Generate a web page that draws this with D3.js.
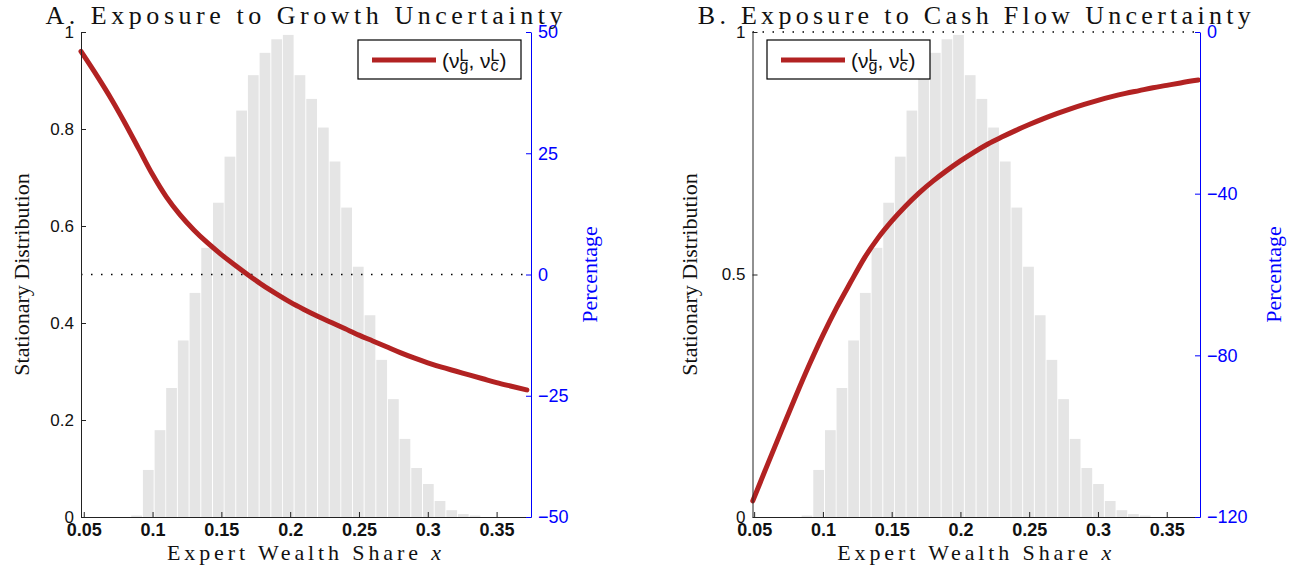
<!DOCTYPE html>
<html>
<head>
<meta charset="utf-8">
<script src="https://cdn.jsdelivr.net/npm/d3@7"></script>
<style>
  body { margin: 0; background: #fff; }
  svg { display: block; }
</style>
</head>
<body>
<div class="container"></div>
<script>
// Stationary distribution of x (histogram, left axis)
const binCenters = [0.0884, 0.0969, 0.1054, 0.1138, 0.1223, 0.1308, 0.1393, 0.1478, 0.1562, 0.1647,
                    0.1732, 0.1817, 0.1902, 0.1986, 0.2071, 0.2156, 0.2241, 0.2326, 0.2410, 0.2495,
                    0.2580, 0.2665, 0.2750, 0.2834, 0.2919, 0.3004, 0.3089, 0.3174, 0.3258, 0.3343]
const binHeights = [0.003, 0.097, 0.179, 0.266, 0.364, 0.462, 0.555, 0.648, 0.743, 0.838,
                    0.911, 0.957, 0.985, 0.994, 0.911, 0.862, 0.803, 0.733, 0.638, 0.516,
                    0.416, 0.324, 0.243, 0.161, 0.101, 0.068, 0.033, 0.014, 0.006, 0.003]
const binWidth = 0.0078

// Panel A: exposure to growth uncertainty (percentage, right axis)
const growthX = [0.048, 0.06, 0.07, 0.08, 0.09, 0.1, 0.11, 0.12, 0.13, 0.14, 0.15, 0.16, 0.17,
                 0.18, 0.19, 0.2, 0.21, 0.22, 0.23, 0.24, 0.25, 0.26, 0.27, 0.28, 0.29, 0.3,
                 0.31, 0.32, 0.33, 0.34, 0.35, 0.36, 0.372]
const growthPct = [46.0, 40.8, 36.2, 31.2, 25.9, 20.6, 16.0, 12.3, 9.2, 6.5, 4.1, 1.9, -0.2,
                   -2.2, -4.0, -5.7, -7.2, -8.6, -9.9, -11.2, -12.5, -13.7, -14.9, -16.1, -17.2, -18.2,
                   -19.1, -19.9, -20.7, -21.5, -22.3, -23.0, -23.8]

// Panel B: exposure to cash flow uncertainty (percentage, right axis)
const cashX = [0.049, 0.06, 0.07, 0.08, 0.09, 0.1, 0.11, 0.12, 0.13, 0.14, 0.15, 0.16, 0.17,
               0.18, 0.19, 0.2, 0.21, 0.22, 0.23, 0.24, 0.25, 0.26, 0.27, 0.28, 0.29, 0.3,
               0.31, 0.32, 0.33, 0.34, 0.35, 0.36, 0.373]
const cashPct = [-116.0, -106.8, -98.5, -90.3, -82.4, -75.0, -68.2, -62.0, -56.0, -51.0, -46.8, -43.1, -39.8,
                 -36.9, -34.3, -31.9, -29.7, -27.7, -26.0, -24.4, -22.9, -21.5, -20.2, -19.0, -17.9, -16.9,
                 -16.0, -15.2, -14.5, -13.8, -13.2, -12.6, -11.9]

// Tick values
const xTicks = [0.05, 0.1, 0.15, 0.2, 0.25, 0.3, 0.35]
const distTicksA = [0, 0.2, 0.4, 0.6, 0.8, 1]
const pctTicksA = [-50, -25, 0, 25, 50]
const distTicksB = [0, 0.5, 1]
const pctTicksB = [-120, -80, -40, 0]

const red = "#b22222"
const blue = "#0000ff"
const sans = "'Liberation Sans', Arial, Helvetica, sans-serif"
const serif = "'Liberation Serif', 'Times New Roman', serif"

const svg = d3.select(".container")
    .append("svg")
    .attr("width", 1301)
    .attr("height", 571)

const plotTop = 32, plotBottom = 517

const panels = [
    {left: 81, right: 531, xDomain: [0.048, 0.375],
     title: "A. Exposure to Growth Uncertainty", titleLen: 517,
     distTicks: distTicksA, pctDomain: [-50, 50], pctTicks: pctTicksA,
     curveX: growthX, curveY: growthPct, legendX: 358,
     distLabelX: 29, pctLabelX: 597},
    {left: 752.5, right: 1200, xDomain: [0.0488, 0.3742],
     title: "B. Exposure to Cash Flow Uncertainty", titleLen: 553,
     distTicks: distTicksB, pctDomain: [-120, 0], pctTicks: pctTicksB,
     curveX: cashX, curveY: cashPct, legendX: 767,
     distLabelX: 697, pctLabelX: 1281}
]

panels.forEach(p => drawPanel(p))

function drawPanel(p) {
    const g = svg.append("g")

    const xScale = d3.scaleLinear().domain(p.xDomain).range([p.left, p.right])
    const yScale = d3.scaleLinear().domain([0, 1]).range([plotBottom, plotTop])
    const pScale = d3.scaleLinear().domain(p.pctDomain).range([plotBottom, plotTop])
    const mid = (p.left + p.right) / 2

    // Histogram
    g.selectAll(".bar")
        .data(binCenters)
        .enter()
        .append("rect")
        .attr("x", d => xScale(d - binWidth / 2))
        .attr("width", d => xScale(d + binWidth / 2) - xScale(d - binWidth / 2))
        .attr("y", (d, i) => yScale(binHeights[i]))
        .attr("height", (d, i) => yScale(0) - yScale(binHeights[i]))
        .attr("fill", "#e5e5e5")

    // Zero-percent reference line
    g.append("line")
        .attr("x1", p.left)
        .attr("x2", p.right)
        .attr("y1", pScale(0))
        .attr("y2", pScale(0))
        .attr("stroke", "black")
        .attr("stroke-width", 1.4)
        .attr("stroke-dasharray", "1.5,8.5")

    // Exposure curve
    const line = d3.line()
        .x((d, i) => xScale(p.curveX[i]))
        .y(d => pScale(d))
        .curve(d3.curveMonotoneX)

    g.append("path")
        .datum(p.curveY)
        .attr("d", line)
        .attr("fill", "none")
        .attr("stroke", red)
        .attr("stroke-width", 5)
        .attr("stroke-linecap", "round")

    // Axes (ticks point inward)
    const xAxis = d3.axisBottom(xScale)
        .tickValues(xTicks)
        .tickFormat(d3.format("~g"))
        .tickSizeInner(-5)
        .tickSizeOuter(0)
        .tickPadding(6)

    const yAxis = d3.axisLeft(yScale)
        .tickValues(p.distTicks)
        .tickFormat(d3.format("~g"))
        .tickSizeInner(-5)
        .tickSizeOuter(0)
        .tickPadding(7)

    const pAxis = d3.axisRight(pScale)
        .tickValues(p.pctTicks)
        .tickFormat(d3.format("~g"))
        .tickSizeInner(-5)
        .tickSizeOuter(0)
        .tickPadding(7)

    g.append("g")
        .attr("transform", `translate(0, ${plotBottom})`)
        .call(xAxis)
        .call(a => a.selectAll("text")
            .attr("font-size", 18)
            .attr("font-weight", "bold")
            .attr("font-family", sans)
            .attr("fill", "#111"))
        .call(a => a.selectAll("line, path").attr("stroke", "#222"))

    g.append("g")
        .attr("transform", `translate(${p.left}, 0)`)
        .call(yAxis)
        .call(a => a.selectAll("text")
            .attr("font-size", 17)
            .attr("font-family", sans)
            .attr("fill", "#111"))
        .call(a => a.selectAll("line, path").attr("stroke", "#222"))

    g.append("g")
        .attr("transform", `translate(${p.right}, 0)`)
        .call(pAxis)
        .call(a => a.selectAll("text")
            .attr("font-size", 18)
            .attr("font-family", sans)
            .attr("fill", blue))
        .call(a => a.selectAll("line, path").attr("stroke", blue))

    // Title and axis labels
    g.append("text")
        .text(p.title)
        .attr("x", mid - 2)
        .attr("y", 24)
        .attr("text-anchor", "middle")
        .attr("font-family", serif)
        .attr("font-size", 26)
        .attr("textLength", p.titleLen)
        .attr("lengthAdjust", "spacing")
        .attr("fill", "#111")

    const xl = g.append("text")
        .attr("x", mid - 2)
        .attr("y", 560)
        .attr("text-anchor", "middle")
        .attr("font-family", serif)
        .attr("font-size", 22)
        .attr("textLength", 274)
        .attr("lengthAdjust", "spacing")
        .attr("fill", "#111")
    xl.append("tspan").text("Expert Wealth Share ")
    xl.append("tspan").text("x").attr("font-style", "italic")

    g.append("text")
        .text("Stationary Distribution")
        .attr("transform", `translate(${p.distLabelX}, ${(plotTop + plotBottom) / 2}) rotate(-90)`)
        .attr("text-anchor", "middle")
        .attr("font-family", serif)
        .attr("font-size", 22)
        .attr("fill", "#111")

    g.append("text")
        .text("Percentage")
        .attr("transform", `translate(${p.pctLabelX}, ${(plotTop + plotBottom) / 2}) rotate(-90)`)
        .attr("text-anchor", "middle")
        .attr("font-family", serif)
        .attr("font-size", 22)
        .attr("fill", blue)

    legend(g, p.legendX, 40)
}

function legend(g, bx, by) {
    g.append("rect")
        .attr("x", bx)
        .attr("y", by)
        .attr("width", 163)
        .attr("height", 39)
        .attr("fill", "white")
        .attr("stroke", "black")
        .attr("stroke-width", 1.2)

    g.append("line")
        .attr("x1", bx + 14)
        .attr("x2", bx + 78)
        .attr("y1", by + 20)
        .attr("y2", by + 20)
        .attr("stroke", red)
        .attr("stroke-width", 5)

    // (nu_g^L, nu_c^L) as one text with stacked super/subscripts
    const t = g.append("text")
        .attr("x", bx + 84)
        .attr("y", by + 28)
        .attr("font-family", sans)
        .attr("font-size", 21)
        .attr("fill", "#111")

    const stacked = (sup, sub) => {
        const s = t.append("tspan").text(sup).attr("font-size", 16).attr("dy", -7)
        t.append("tspan").text(sub).attr("font-size", 16).attr("dy", 9.5)
            .attr("dx", -s.node().getComputedTextLength())
        return -2.5
    }

    t.append("tspan").text("(\u03bd")
    let back = stacked("L", "g")
    t.append("tspan").text(", \u03bd").attr("dy", back)
    back = stacked("L", "c")
    t.append("tspan").text(")").attr("dy", back).attr("dx", 1)
}
</script>
</body>
</html>
